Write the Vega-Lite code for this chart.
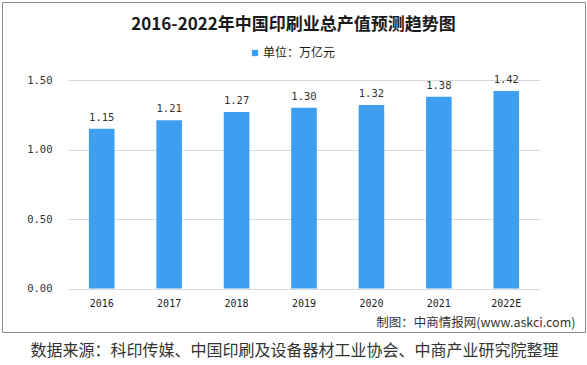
{
  "$schema": "https://vega.github.io/schema/vega-lite/v6.json",
  "width": 583,
  "height": 330,
  "autosize": {"type": "none"},
  "padding": {"left": 2, "top": 2, "right": 2, "bottom": 33},
  "background": "white",
  "title": {
    "text": "2016-2022年中国印刷业总产值预测趋势图",
    "font": "Noto Sans CJK SC",
    "fontSize": 17,
    "fontWeight": "bold",
    "color": "#1a1a1a",
    "anchor": "middle",
    "offset": 0,
    "dy": 32
  },
  "config": {
    "view": {"stroke": "#8c8c8c", "strokeWidth": 1}
  },
  "data": {
    "values": [
      {"year": "2016", "value": 1.15},
      {"year": "2017", "value": 1.21},
      {"year": "2018", "value": 1.27},
      {"year": "2019", "value": 1.30},
      {"year": "2020", "value": 1.32},
      {"year": "2021", "value": 1.38},
      {"year": "2022E", "value": 1.42}
    ]
  },
  "encoding": {
    "x": {
      "field": "year",
      "type": "ordinal",
      "sort": null,
      "scale": {"range": [66, 538], "paddingInner": 0.62, "paddingOuter": 0.31},
      "axis": {
        "orient": "bottom",
        "offset": -43.5,
        "domain": false,
        "ticks": false,
        "grid": false,
        "labelAngle": 0,
        "labelFont": "DejaVu Sans Mono",
        "labelFontSize": 10,
        "labelColor": "#222222",
        "labelPadding": 10,
        "title": "制图：中商情报网(www.askci.com)",
        "titleX": 573,
        "titleY": 33.5,
        "titleAlign": "right",
        "titleBaseline": "middle",
        "titleFont": "Noto Sans CJK SC",
        "titleFontSize": 12.5,
        "titleFontWeight": "normal",
        "titleColor": "#333333"
      }
    },
    "y": {
      "field": "value",
      "type": "quantitative",
      "scale": {"domain": [0, 1.5], "range": [286.5, 78], "nice": false, "zero": true},
      "axis": {
        "orient": "left",
        "offset": -56,
        "values": [0, 0.5, 1, 1.5],
        "format": ".2f",
        "domain": false,
        "ticks": false,
        "grid": true,
        "gridColor": "#d9d9d9",
        "gridWidth": 1,
        "labelFont": "DejaVu Sans Mono",
        "labelFontSize": 10.5,
        "labelColor": "#333333",
        "labelPadding": 6,
        "title": "数据来源：科印传媒、中国印刷及设备器材工业协会、中商产业研究院整理",
        "titleAngle": 0,
        "titleX": -28,
        "titleY": 348,
        "titleAlign": "left",
        "titleBaseline": "middle",
        "titleFont": "Noto Sans CJK SC",
        "titleFontSize": 16,
        "titleFontWeight": "normal",
        "titleColor": "#333333"
      }
    }
  },
  "layer": [
    {
      "mark": {"type": "bar"},
      "encoding": {
        "color": {
          "datum": "单位：万亿元",
          "scale": {"range": ["#3e9ff0"]},
          "legend": {
            "orient": "none",
            "legendX": 247,
            "legendY": 45,
            "title": null,
            "padding": 0,
            "symbolType": "square",
            "symbolSize": 40,
            "symbolStrokeWidth": 0,
            "labelFont": "Noto Sans CJK SC",
            "labelFontSize": 12,
            "labelColor": "#1a1a1a",
            "labelOffset": 2
          }
        }
      }
    },
    {
      "mark": {
        "type": "text",
        "baseline": "alphabetic",
        "dy": -8,
        "font": "DejaVu Sans Mono",
        "fontSize": 10.5,
        "color": "#333333"
      },
      "encoding": {
        "text": {"field": "value", "type": "quantitative", "format": ".2f"}
      }
    }
  ]
}
